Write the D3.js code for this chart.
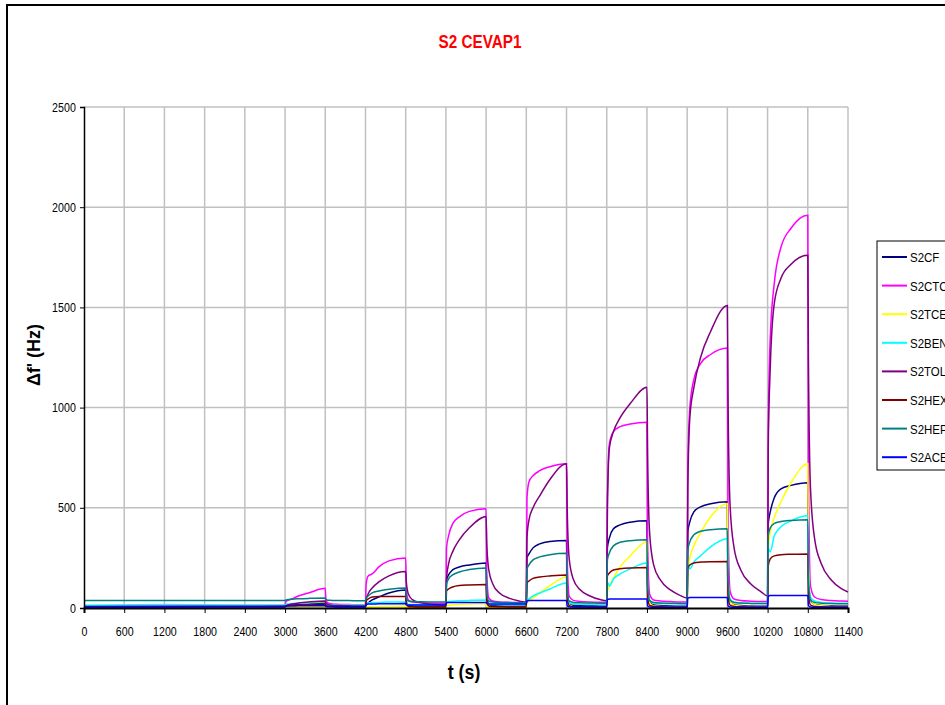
<!DOCTYPE html>
<html>
<head>
<meta charset="utf-8">
<style type="text/css">
body { margin: 0; background: #fff; }
svg { display: block; }
.tick text { font-family: "Liberation Sans Narrow", "Arial Narrow", Arial, sans-serif; font-size: 13px; fill: #000; }
.grid line { stroke: #c0c0c0; stroke-width: 1.5; }
.serie { fill: none; stroke-width: 1.5; }
</style>
<script src="https://d3js.org/d3.v7.min.js"></script>
</head>
<body>
<script type="text/javascript">
var width = 945;
var height = 705;

var xTicks = [0,600,1200,1800,2400,3000,3600,4200,4800,5400,6000,6600,7200,7800,8400,9000,9600,10200,10800,11400];
var yTicks = [0,500,1000,1500,2000,2500];

var names  = ["S2CF","S2CTC","S2TCE","S2BEN","S2TOL","S2HEX","S2HEP","S2ACE"];
var colors = ["#000080","#ff00ff","#ffff00","#00ffff","#800080","#800000","#008080","#0000ff"];

// sample times (s)
var times = [0,1200,2400,
 3000,3010,3040,3100,3200,3350,3600,3610,3640,3700,3800,3950,4100,
 4200,4210,4240,4300,4400,4550,4800,4810,4840,4900,5000,5150,5300,
 5400,5410,5440,5500,5600,5750,6000,6010,6040,6100,6200,6350,6500,
 6600,6610,6640,6700,6800,6950,7200,7210,7240,7300,7400,7550,7700,
 7800,7810,7840,7900,8000,8150,8400,8410,8440,8500,8600,8750,8900,
 9000,9010,9040,9100,9200,9350,9600,9610,9640,9700,9800,9950,10100,
 10200,10210,10240,10300,10400,10550,10800,10810,10840,10900,11000,11150,11300,
 11400];

var s2cf = [8,8,9,
 9,10,12,14,16,18,20, 12,10,9,9,9,9,
 9,15,25,40,55,75,90, 30,14,10,9,9,9,
 9,140,165,190,205,215,225, 60,20,12,10,9,9,
 9,250,270,300,320,332,337, 90,25,14,11,10,9,
 9,300,350,395,415,428,435, 120,30,15,12,10,9,
 9,380,430,480,505,520,530, 140,35,16,12,10,9,
 9,420,480,550,595,612,625, 170,40,18,13,11,10,
 10];

var s2ctc = [10,10,12,
 14,30,38,45,60,75,98, 40,25,20,18,17,16,
 16,120,160,170,205,235,250, 90,40,30,27,25,24,
 24,300,360,420,455,482,495, 170,50,35,30,28,27,
 27,550,630,660,685,705,720, 250,60,38,33,30,29,
 29,550,820,880,905,918,927, 320,70,40,35,32,30,
 30,700,1000,1140,1220,1265,1297, 450,85,45,38,34,32,
 32,900,1350,1620,1800,1895,1960, 680,110,55,42,37,35,
 34];

var s2tce = [2,2,2,
 2,3,3,4,4,5,5, 3,2,2,2,2,2,
 2,5,6,7,8,9,10, 4,2,2,2,2,2,
 2,12,14,16,18,20,22, 8,4,3,3,3,3,
 3,30,35,50,75,110,155, 45,12,6,4,4,4,
 4,80,110,150,205,260,330, 100,25,10,7,6,5,
 5,180,250,310,375,455,520, 150,35,14,9,7,6,
 6,300,380,450,530,625,720, 220,50,18,11,8,7,
 7];

var s2ben = [14,18,15,
 15,18,20,22,24,26,28, 20,17,16,15,15,15,
 15,22,25,27,28,30,30, 22,18,17,16,16,16,
 16,30,32,34,36,38,40, 25,20,18,18,18,18,
 18,40,45,60,75,95,125, 50,25,20,19,19,19,
 19,130,110,145,170,195,225, 80,35,25,22,21,20,
 20,220,195,230,260,305,345, 110,45,30,25,23,22,
 22,300,280,360,405,435,460, 150,55,35,28,25,24,
 24];

var s2tol = [8,8,9,
 10,12,15,20,25,30,35, 25,18,14,12,11,10,
 10,40,70,100,130,160,182, 130,70,42,28,20,16,
 15,150,220,280,340,400,457, 320,190,120,75,48,34,
 28,350,440,500,560,640,720, 500,245,145,92,60,42,
 36,500,800,880,950,1020,1101, 770,375,215,140,90,62,
 50,600,950,1100,1250,1380,1510, 1050,515,300,190,120,82,
 60,800,1200,1520,1645,1715,1760, 1230,600,350,222,140,97,
 80];

var s2hex = [4,4,5,
 5,10,12,14,16,18,22, 10,7,6,5,5,5,
 5,35,45,55,57,57,57, 20,8,6,5,5,5,
 5,85,95,105,112,115,117, 35,10,7,6,5,5,
 5,125,135,148,155,160,165, 45,12,7,6,5,5,
 5,160,175,190,196,200,202, 55,13,8,6,5,5,
 5,200,215,225,229,231,232, 60,14,8,6,5,5,
 5,210,245,260,266,268,270, 70,15,8,6,5,5,
 5];

var s2hep = [37,37,37,
 37,40,42,44,46,48,50, 42,39,38,37,37,36,
 36,50,60,75,85,93,100, 50,35,32,31,30,30,
 30,120,145,165,180,192,200, 70,35,30,28,27,26,
 26,195,215,240,255,266,273, 90,35,28,26,25,24,
 24,240,275,310,328,336,340, 110,38,28,25,24,23,
 23,290,330,365,383,391,395, 130,40,28,25,23,22,
 22,360,400,422,432,437,440, 140,42,28,24,22,21,
 21];

var s2ace = [5,6,6,
 6,10,10,10,11,11,12, 8,7,7,6,6,6,
 6,18,20,20,21,21,22, 16,15,15,15,15,15,
 15,26,27,27,27,28,28, 22,20,20,20,20,20,
 20,35,37,37,37,37,37, 10,6,5,5,5,5,
 5,42,45,45,45,45,45, 10,5,4,4,4,4,
 4,50,52,52,52,53,52, 10,5,4,4,4,4,
 4,58,62,63,62,63,63, 12,5,4,4,4,4,
 4];

var series = [s2cf, s2ctc, s2tce, s2ben, s2tol, s2hex, s2hep, s2ace];

var plotL = 84, plotR = 848, plotT = 107, plotB = 608;

var svg = d3.select("body").append("svg").attr("width", width).attr("height", height);

// chart area border
svg.append("rect").attr("x", 7).attr("y", 5).attr("width", 1000).attr("height", 800)
	.attr("fill", "none").attr("stroke", "#000").attr("stroke-width", 2);

var x = d3.scaleLinear().domain([0, 11400]).range([plotL, plotR]);
var y = d3.scaleLinear().domain([0, 2500]).range([plotB, plotT]);

// grid
svg.append("g").attr("class", "grid").selectAll("line").data(xTicks.slice(1)).enter().append("line")
	.attr("x1", function(d){ return x(d); }).attr("x2", function(d){ return x(d); })
	.attr("y1", plotT).attr("y2", plotB);
svg.append("g").attr("class", "grid").selectAll("line").data(yTicks.slice(1)).enter().append("line")
	.attr("x1", plotL).attr("x2", plotR)
	.attr("y1", function(d){ return y(d); }).attr("y2", function(d){ return y(d); });

// lines
var line = d3.line()
	.x(function(d){ return x(d[0]); })
	.y(function(d){ return y(d[1]); })
	.curve(d3.curveMonotoneX);

series.forEach(function(vals, i) {
	var pts = times.map(function(t, j){ return [t, vals[j]]; });
	svg.append("path").datum(pts).attr("class", "serie")
		.attr("stroke", colors[i]).attr("d", line);
});

// axes
var xAxis = svg.append("g").attr("transform", "translate(0," + plotB + ")")
	.call(d3.axisBottom(x).tickValues(xTicks).tickFormat(d3.format("d")).tickSize(5).tickPadding(14));
xAxis.select(".domain").attr("stroke", "#000").attr("stroke-width", 2);
xAxis.selectAll(".tick line").attr("stroke", "#000");
xAxis.selectAll(".tick text").attr("transform", "scale(0.82,1)");

var yAxis = svg.append("g").attr("transform", "translate(" + plotL + ",0)")
	.call(d3.axisLeft(y).tickValues(yTicks).tickFormat(d3.format("d")).tickSize(4).tickPadding(6));
yAxis.select(".domain").attr("stroke", "#000").attr("stroke-width", 1.5);
yAxis.selectAll(".tick line").attr("stroke", "#000");
yAxis.selectAll(".tick text").attr("transform", "scale(0.82,1)");

// title and axis labels
svg.append("text").attr("transform", "translate(480,48) scale(0.85,1)").attr("text-anchor", "middle")
	.style("font-family", "Arial, 'Liberation Sans', sans-serif")
	.style("font-weight", "bold").style("font-size", "18px").attr("fill", "#ff0000")
	.text("S2 CEVAP1");

svg.append("text").attr("transform", "translate(40,355) rotate(-90)").attr("text-anchor", "middle")
	.style("font-family", "Arial, 'Liberation Sans', sans-serif")
	.style("font-weight", "bold").style("font-size", "18px")
	.text("\u0394f' (Hz)");

svg.append("text").attr("transform", "translate(464,679) scale(0.85,1)").attr("text-anchor", "middle")
	.style("font-family", "Arial, 'Liberation Sans', sans-serif")
	.style("font-weight", "bold").style("font-size", "21px")
	.text("t (s)");

// legend
var lg = svg.append("g");
lg.append("rect").attr("x", 877).attr("y", 241).attr("width", 100).attr("height", 229)
	.attr("fill", "#fff").attr("stroke", "#000").attr("stroke-width", 1);
names.forEach(function(n, i) {
	var ly = 257 + i * 28.6;
	lg.append("line").attr("x1", 882).attr("x2", 907).attr("y1", ly).attr("y2", ly)
		.attr("stroke", colors[i]).attr("stroke-width", 2);
	lg.append("text").attr("transform", "translate(910," + (ly + 5) + ") scale(0.85,1)")
		.style("font-family", "Arial, 'Liberation Sans', sans-serif")
		.style("font-size", "13.5px").text(n);
});
</script>
</body>
</html>
